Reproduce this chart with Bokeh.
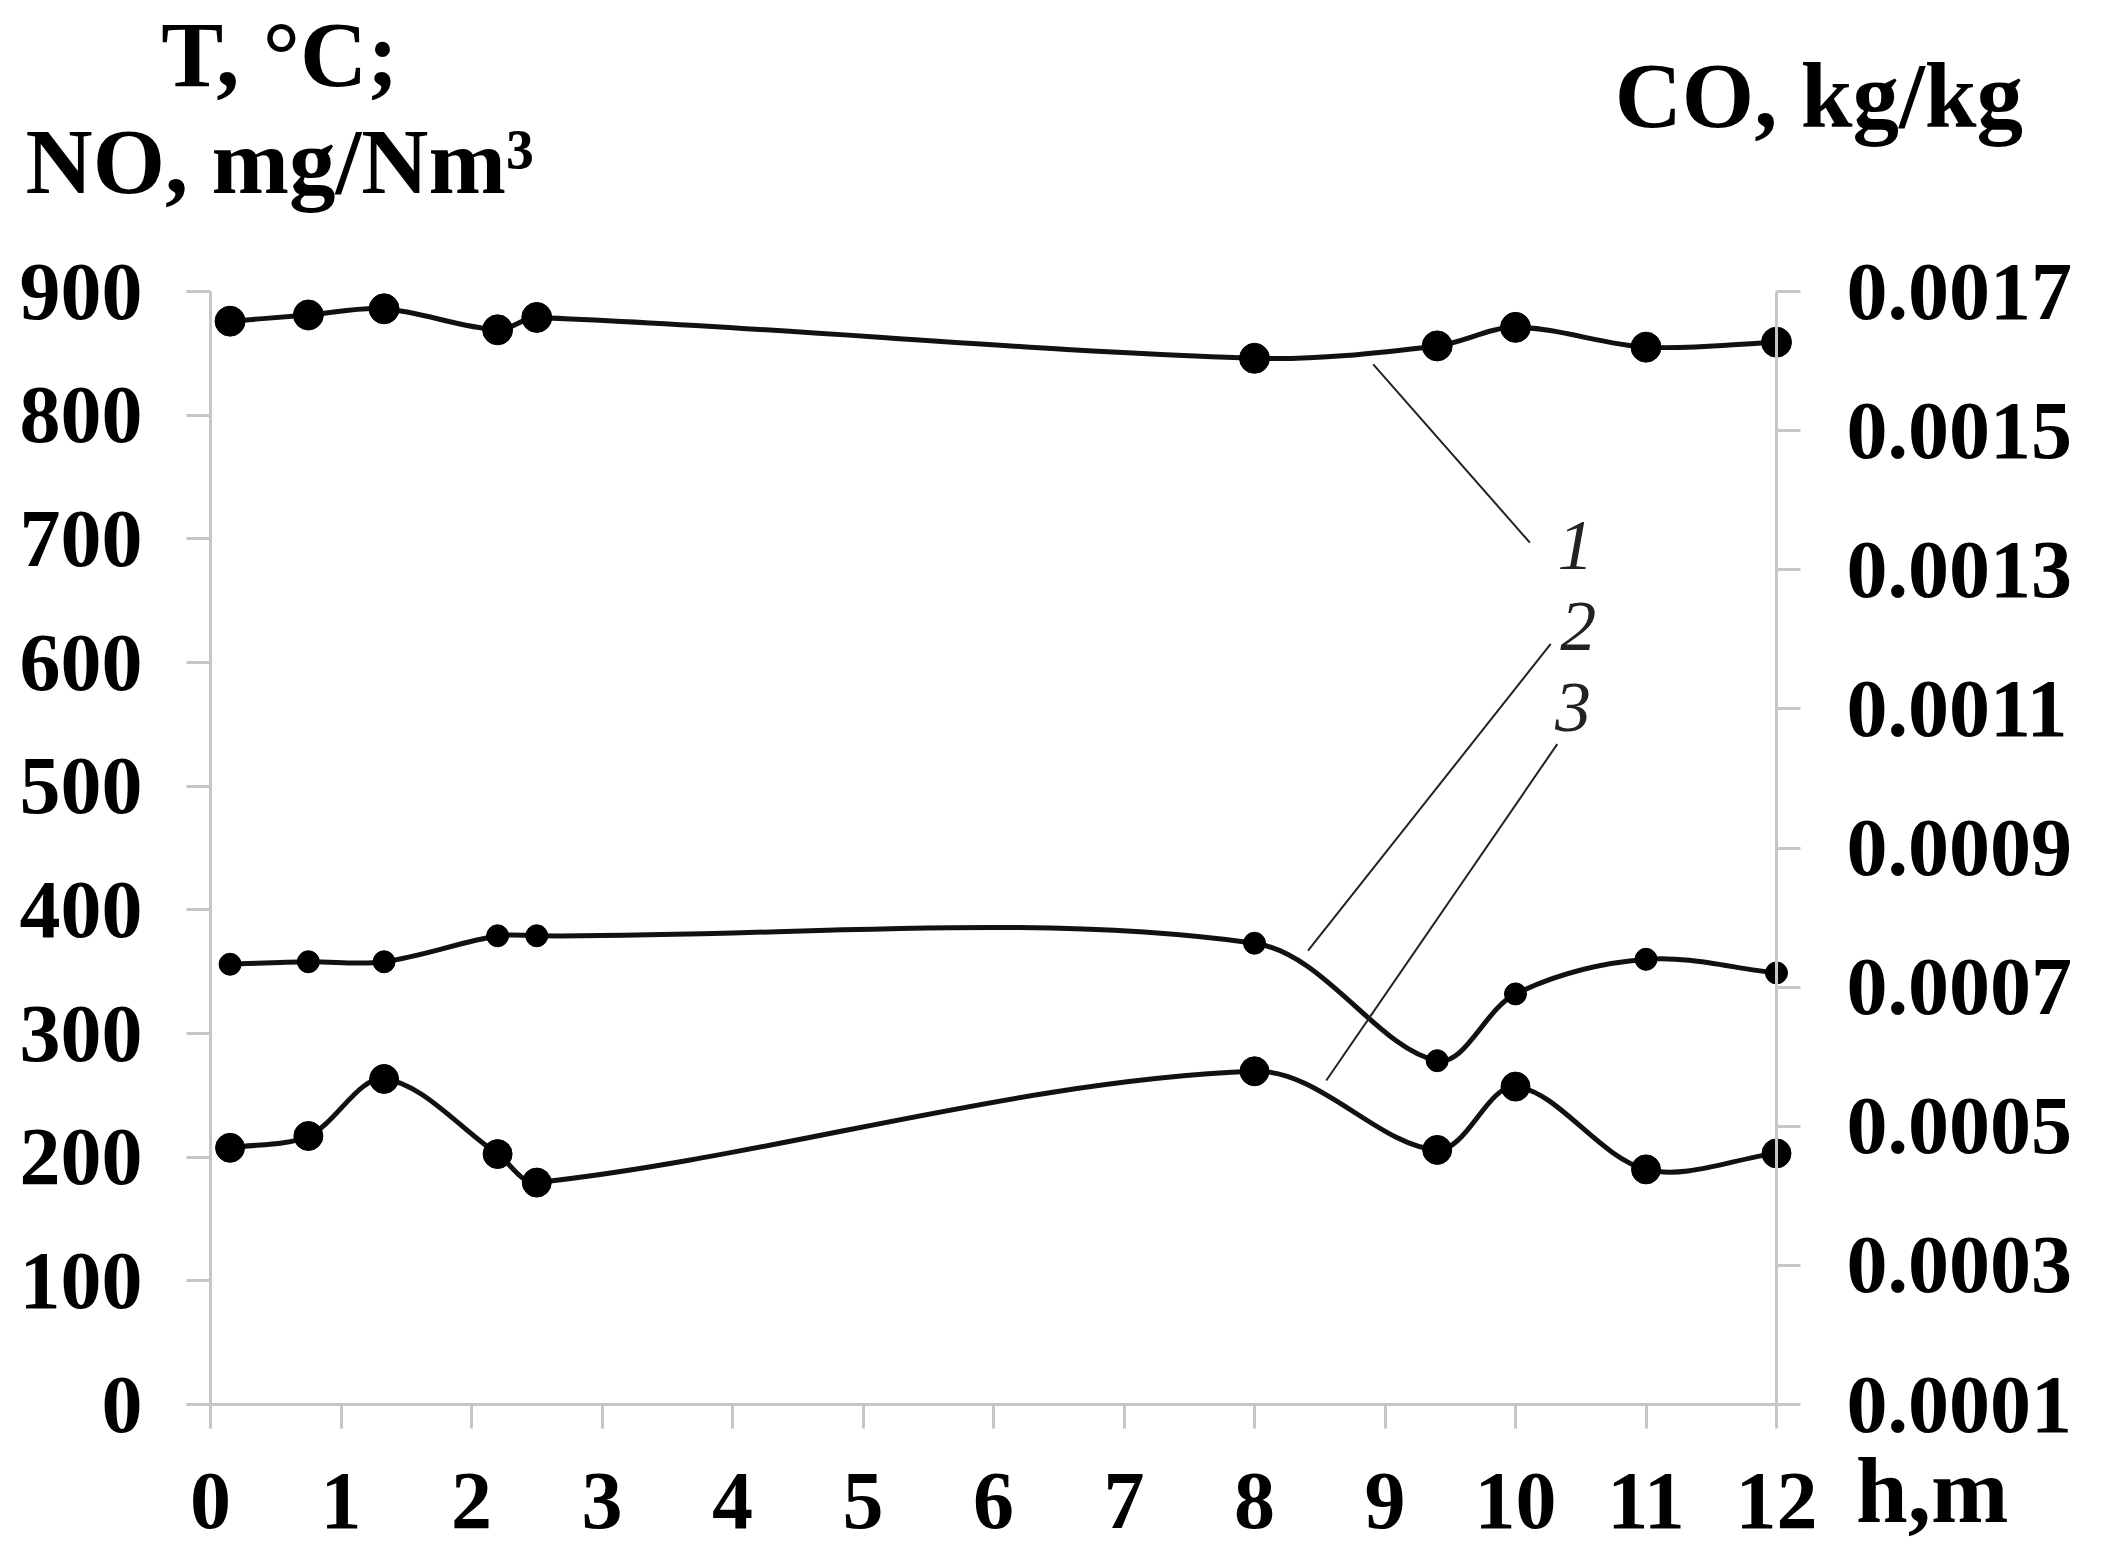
import numpy as np
from bokeh.plotting import figure
from bokeh.models import Range1d, LinearAxis, FixedTicker, NumeralTickFormatter, Label
from bokeh.embed import file_html
from bokeh.resources import INLINE

# ---------------- data ----------------
h_m = [0.15, 0.75, 1.33, 2.2, 2.5, 8, 9.4, 10, 11, 12]
temp_c = [876, 881, 886, 869, 879, 846, 856, 871, 855, 859]          # curve 1 (left axis)
no_mg = [356, 358, 358, 379, 379, 373, 278, 332, 360, 349]           # curve 2 (left axis)
co_kg = [0.000469, 0.000486, 0.000568, 0.000460, 0.000419,
         0.000579, 0.000466, 0.000557, 0.000438, 0.000461]          # curve 3 (right axis)
x_ticks = list(range(0, 13))
left_ticks = list(range(0, 1000, 100))
right_ticks = [0.0001, 0.0003, 0.0005, 0.0007, 0.0009, 0.0011, 0.0013, 0.0015, 0.0017]
curve_labels = ["1", "2", "3"]

# ---------------- layout ----------------
W, H = 2090, 1544
# pixel box of the plotting area inside the canvas
PL, PR, PT, PB = 210, 1776, 291, 1404
X0, X1 = 0, 12
Y0, Y1 = 0, 900
C0, C1 = 0.0001, 0.0017

kx = (PR - PL) / (X1 - X0)
ky_left = (PB - PT) / (Y1 - Y0)
ky_co = (PB - PT) / (C1 - C0)

FONT = "Liberation Serif"
AX_COL = "#c6c6c6"
LINE_COL = "#111111"

# the frame covers the whole canvas so that titles and tick labels are never clipped
p = figure(width=W, height=H,
           x_range=Range1d(X0 - PL / kx, X1 + (W - PR) / kx),
           y_range=Range1d(Y0 - (H - PB) / ky_left, Y1 + PT / ky_left),
           x_axis_location=None, y_axis_location=None,
           output_backend="svg", toolbar_location=None,
           min_border_left=0, min_border_right=0, min_border_top=0, min_border_bottom=0)
p.extra_y_ranges = {"co": Range1d(C0 - (H - PB) / ky_co, C1 + PT / ky_co)}
p.outline_line_color = None
p.background_fill_color = "white"
p.border_fill_color = "white"
for g in p.grid:
    g.visible = False


def make_axis(ticks, standoff, bounds, loc, **kw):
    ax = LinearAxis(fixed_location=loc, bounds=bounds, **kw)
    ax.ticker = FixedTicker(ticks=ticks)
    ax.minor_tick_line_color = None
    ax.major_tick_in = 0
    ax.major_tick_out = 24
    ax.major_tick_line_color = AX_COL
    ax.major_tick_line_width = 3
    ax.axis_line_color = AX_COL
    ax.axis_line_width = 3
    ax.major_label_text_font = FONT
    ax.major_label_text_font_style = "bold"
    ax.major_label_text_font_size = "82px"
    ax.major_label_text_color = "black"
    ax.major_label_standoff = standoff
    return ax


x_axis = make_axis(x_ticks, 45, (X0, X1), Y0)
left_axis = make_axis(left_ticks, 44, (Y0, Y1), X0)
right_axis = make_axis(right_ticks, 46, (C0, C1), X1, y_range_name="co")
right_axis.formatter = NumeralTickFormatter(format="0.0000")
p.add_layout(x_axis, "below")
p.add_layout(left_axis, "left")
p.add_layout(right_axis, "right")


# ---------- smoothed lines (Bezier segments, like a spreadsheet "smoothed line") ----------
def smooth(xs, ys, sx, sy):
    X = np.asarray(xs, float) * sx
    Y = np.asarray(ys, float) * sy
    n = len(X)
    out = {k: [] for k in ("x0", "y0", "x1", "y1", "cx0", "cy0", "cx1", "cy1")}
    for i in range(n - 1):
        i0, i3 = max(i - 1, 0), min(i + 2, n - 1)
        P0 = np.array([X[i0], Y[i0]]); P1 = np.array([X[i], Y[i]])
        P2 = np.array([X[i + 1], Y[i + 1]]); P3 = np.array([X[i3], Y[i3]])
        d01 = np.hypot(*(P1 - P0)); d12 = np.hypot(*(P2 - P1)); d23 = np.hypot(*(P3 - P2))
        c1 = P1 + (P2 - P0) * (d12 / (d01 + d12)) / 3.0
        c2 = P2 - (P3 - P1) * (d12 / (d12 + d23)) / 3.0
        out["x0"].append(P1[0] / sx); out["y0"].append(P1[1] / sy)
        out["x1"].append(P2[0] / sx); out["y1"].append(P2[1] / sy)
        out["cx0"].append(c1[0] / sx); out["cy0"].append(c1[1] / sy)
        out["cx1"].append(c2[0] / sx); out["cy1"].append(c2[1] / sy)
    return out


p.bezier(**smooth(h_m, temp_c, kx, ky_left), line_color=LINE_COL, line_width=5)
p.bezier(**smooth(h_m, no_mg, kx, ky_left), line_color=LINE_COL, line_width=5)
p.bezier(**smooth(h_m, co_kg, kx, ky_co), line_color=LINE_COL, line_width=5,
         y_range_name="co")

p.scatter(h_m, temp_c, size=30, color="black")
p.scatter(h_m, no_mg, size=22, color="black")
p.scatter(h_m, co_kg, size=29, color="black", y_range_name="co")

# ---------- callout lines and curve numbers ----------
p.segment(x0=[8.91, 8.41, 8.55], y0=[841, 367, 262],
          x1=[10.11, 10.27, 10.32], y1=[697, 615, 534],
          line_color="#222222", line_width=2)
for txt, lx, ly in zip(curve_labels, [10.46, 10.48, 10.44], [695, 629, 564]):
    p.add_layout(Label(x=lx, y=ly, text=txt, text_font=FONT, text_font_style="italic",
                       text_font_size="72px", text_color="#222222",
                       text_align="center", text_baseline="middle"))


# ---------- axis titles ----------
def title(txt, x, y, align):
    p.add_layout(Label(x=x, y=y, text=txt, text_font=FONT, text_font_style="bold",
                       text_font_size="93px", text_color="black",
                       text_align=align, text_baseline="alphabetic"))


title("T, °C;", 0.53, 1091.5, "center")
title("NO, mg/Nm³", 0.53, 1005.5, "center")
title("CO, kg/kg", 10.76, 1058.5, "left")
title("h,m", 12.61, -69.5, "left")

open("out.html", "w").write(file_html(p, INLINE))
